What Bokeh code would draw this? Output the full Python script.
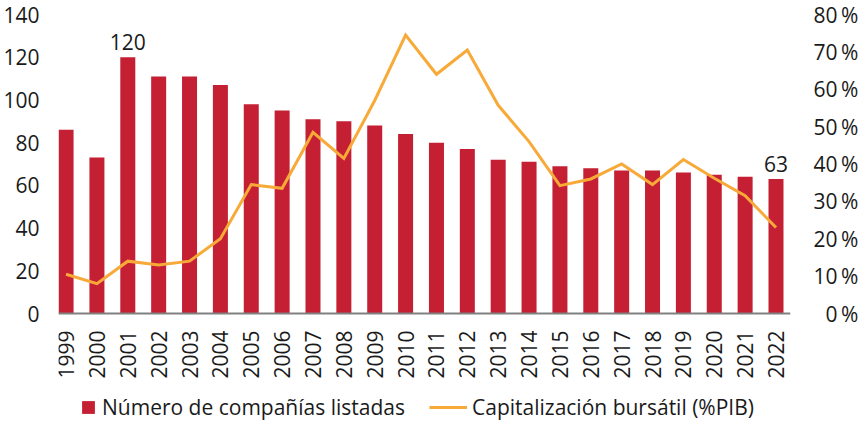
from math import pi
from bokeh.plotting import figure
from bokeh.models import (Range1d, LinearAxis, FixedTicker, Legend, LegendItem,
                          ColumnDataSource)
from bokeh.core.properties import value
from bokeh.embed import file_html
from bokeh.resources import INLINE

years = [1999, 2000, 2001, 2002, 2003, 2004, 2005, 2006, 2007, 2008, 2009, 2010,
         2011, 2012, 2013, 2014, 2015, 2016, 2017, 2018, 2019, 2020, 2021, 2022]
companies = [86, 73, 120, 111, 111, 107, 98, 95, 91, 90, 88, 84,
             80, 77, 72, 71, 69, 68, 67, 67, 66, 65, 64, 63]
market_cap_pct = [10.5, 8, 14, 13, 14, 20, 34.5, 33.5, 48.5, 41.5, 57, 74.5,
                  64, 70.5, 55.7, 46, 34.2, 36, 40, 34.5, 41.2, 36.2, 31.5, 23]
left_ticks = [0, 20, 40, 60, 80, 100, 120, 140]
right_ticks = [0, 10, 20, 30, 40, 50, 60, 70, 80]
bar_label = "Número de compañías listadas"
line_label = "Capitalización bursátil (%PIB)"

FONT = "Open Sans"
FS = "21px"
TXT = "#1a1a1a"
RED = "#C41F33"
ORANGE = "#F8AA38"

# layout: the plotting frame extends below the zero line so that the legend
# (placed under the year labels) sits inside the frame.
CHART_PX = 299          # pixels from 0 to the top of the axes
FRAME_PX = 410          # full frame height
LEFT_MAX, RIGHT_MAX = 140, 80
left_min = -(FRAME_PX - CHART_PX) * LEFT_MAX / CHART_PX
right_min = -(FRAME_PX - CHART_PX) * RIGHT_MAX / CHART_PX

xs = list(range(len(years)))
src = ColumnDataSource(dict(x=xs, companies=companies, pct=market_cap_pct))

p = figure(frame_width=732, frame_height=FRAME_PX,
           min_border_left=51, min_border_right=58, min_border_top=14, min_border_bottom=0,
           x_range=Range1d(-0.245, 23.47), y_range=Range1d(left_min, LEFT_MAX),
           output_backend="svg", toolbar_location=None)
p.extra_y_ranges = {"pct": Range1d(right_min, RIGHT_MAX)}
p.outline_line_color = None
p.xgrid.visible = False
p.ygrid.visible = False
p.background_fill_color = "white"
p.border_fill_color = "white"

bars = p.vbar(x="x", bottom=0, top="companies", width=0.486, source=src,
              fill_color=RED, line_color=None)
line = p.line(x="x", y="pct", source=src, y_range_name="pct",
              line_color=ORANGE, line_width=3, line_join="miter")

# annotations: max value and last value
imax = companies.index(max(companies))
ilast = len(companies) - 1
lab_src = ColumnDataSource(dict(x=[xs[imax], xs[ilast]],
                                y=[companies[imax], companies[ilast]],
                                t=[str(companies[imax]), str(companies[ilast])]))
p.text(x="x", y="y", text="t", source=lab_src, text_align="center",
       text_baseline="bottom", y_offset=-7, text_font=value(FONT),
       text_font_size=FS, text_color=TXT)

# x axis, drawn at y = 0
xa = p.xaxis[0]
xa.fixed_location = 0
xa.ticker = FixedTicker(ticks=xs)
xa.major_label_overrides = {i: str(y) for i, y in zip(xs, years)}
xa.major_label_orientation = pi / 2
xa.major_tick_line_color = None
xa.minor_tick_line_color = None
xa.axis_line_color = "#808080"
xa.axis_line_width = 2
xa.major_label_standoff = 11
xa.major_label_text_font = FONT
xa.major_label_text_font_size = FS
xa.major_label_text_color = TXT

# left axis
ya = p.yaxis[0]
ya.ticker = FixedTicker(ticks=left_ticks)
ya.axis_line_color = None
ya.major_tick_line_color = None
ya.minor_tick_line_color = None
ya.major_label_standoff = 13
ya.major_label_text_font = FONT
ya.major_label_text_font_size = FS
ya.major_label_text_color = TXT

# right axis
ra = LinearAxis(y_range_name="pct", ticker=FixedTicker(ticks=right_ticks))
ra.major_label_overrides = {t: ("\u2007" if t < 10 else "") + f"{t}\u2009%" for t in right_ticks}
ra.axis_line_color = None
ra.major_tick_line_color = None
ra.minor_tick_line_color = None
ra.major_label_standoff = 17
ra.major_label_text_font = FONT
ra.major_label_text_font_size = FS
ra.major_label_text_color = TXT
p.add_layout(ra, "right")

leg_common = dict(padding=0, margin=0, border_line_color=None, background_fill_alpha=0,
                  label_text_font=FONT, label_text_font_size=FS, label_text_color=TXT,
                  label_height=20, glyph_height=16)
leg1 = Legend(items=[LegendItem(label=bar_label, renderers=[bars])],
              location=(22, 3), glyph_width=16, label_standoff=6, **leg_common)
leg2 = Legend(items=[LegendItem(label=line_label, renderers=[line])],
              location=(371, 3), glyph_width=38, label_standoff=5, **leg_common)
p.add_layout(leg1)
p.add_layout(leg2)

open("out.html", "w").write(file_html(p, INLINE))
